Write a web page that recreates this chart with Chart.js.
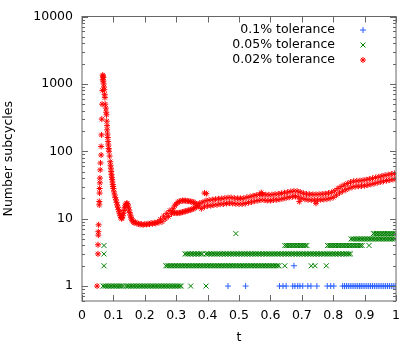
<!DOCTYPE html>
<html>
<head>
<meta charset="utf-8">
<script src="https://cdn.jsdelivr.net/npm/chart.js@4.4.0/dist/chart.umd.min.js"></script>
<style>
  body { margin: 0; background: #fff; }
</style>
</head>
<body>
<canvas id="chart" width="407" height="349"></canvas>
<script>
// tick labels
const xTicks = [0, 0.1, 0.2, 0.3, 0.4, 0.5, 0.6, 0.7, 0.8, 0.9, 1];
const yDecades = [1, 10, 100, 1000, 10000];

const seriesNames = ['0.1% tolerance', '0.05% tolerance', '0.02% tolerance'];

// 0.1% tolerance: times (t) at which 1 and 2 subcycles were used
const blueAt1 = [0.465, 0.521, 0.629, 0.640, 0.650, 0.671, 0.678, 0.687, 0.694, 0.703, 0.719, 0.729, 0.748,
  0.781, 0.792, 0.802, 0.830, 0.836, 0.842, 0.848, 0.854, 0.860, 0.866, 0.872, 0.878, 0.884, 0.889, 0.895,
  0.901, 0.907, 0.913, 0.919, 0.925, 0.931, 0.937, 0.943, 0.949, 0.955, 0.961, 0.967, 0.973, 0.979, 0.985,
  0.991, 0.997];
const blueAt2 = [0.675];

// 0.05% tolerance: times (t) for each subcycle count
const greenAt1 = [0.067, 0.072, 0.077, 0.082, 0.087, 0.092, 0.097, 0.102, 0.107, 0.112, 0.117, 0.122, 0.126,
  0.132, 0.141, 0.146, 0.151, 0.156, 0.161, 0.166, 0.171, 0.176, 0.181, 0.186, 0.191, 0.196, 0.201, 0.206,
  0.211, 0.216, 0.221, 0.226, 0.231, 0.236, 0.241, 0.246, 0.251, 0.256, 0.261, 0.266, 0.271, 0.276, 0.281,
  0.286, 0.291, 0.296, 0.301, 0.306, 0.311, 0.316, 0.346, 0.395];
const greenAt2 = [0.07, 0.267, 0.272, 0.277, 0.282, 0.287, 0.292, 0.297, 0.302, 0.307, 0.312, 0.317, 0.322,
  0.327, 0.332, 0.337, 0.342, 0.347, 0.352, 0.357, 0.362, 0.367, 0.372, 0.377, 0.382, 0.387, 0.392, 0.397,
  0.402, 0.407, 0.412, 0.417, 0.422, 0.427, 0.432, 0.437, 0.442, 0.447, 0.452, 0.457, 0.462, 0.467, 0.472,
  0.477, 0.482, 0.487, 0.492, 0.497, 0.502, 0.507, 0.512, 0.517, 0.522, 0.527, 0.532, 0.537, 0.542, 0.547,
  0.552, 0.557, 0.562, 0.567, 0.572, 0.577, 0.582, 0.587, 0.592, 0.597, 0.602, 0.607, 0.612, 0.617, 0.622,
  0.627, 0.646, 0.73, 0.742, 0.778];
const greenAt3 = [0.07, 0.328, 0.333, 0.338, 0.343, 0.348, 0.353, 0.358, 0.363, 0.368, 0.373, 0.378, 0.383,
  0.395, 0.4, 0.405, 0.41, 0.415, 0.42, 0.425, 0.43, 0.435, 0.44, 0.445, 0.45, 0.455, 0.46, 0.465, 0.47,
  0.475, 0.48, 0.485, 0.49, 0.495, 0.5, 0.505, 0.51, 0.515, 0.52, 0.525, 0.53, 0.535, 0.54, 0.545, 0.55,
  0.555, 0.56, 0.565, 0.57, 0.575, 0.58, 0.585, 0.59, 0.595, 0.6, 0.605, 0.61, 0.615, 0.62, 0.625, 0.63,
  0.635, 0.64, 0.645, 0.65, 0.655, 0.66, 0.665, 0.67, 0.675, 0.68, 0.685, 0.69, 0.695, 0.7, 0.705, 0.71,
  0.715, 0.72, 0.725, 0.73, 0.735, 0.74, 0.745, 0.75, 0.755, 0.76, 0.765, 0.77, 0.775, 0.78, 0.785, 0.79,
  0.795, 0.8, 0.805, 0.81, 0.815, 0.82, 0.825, 0.83, 0.835, 0.84, 0.845, 0.85, 0.855];
const greenAt4 = [0.07, 0.646, 0.651, 0.656, 0.661, 0.666, 0.671, 0.676, 0.681, 0.686, 0.691, 0.696, 0.701,
  0.706, 0.711, 0.716, 0.782, 0.787, 0.792, 0.797, 0.802, 0.807, 0.812, 0.817, 0.822, 0.827, 0.832, 0.837,
  0.842, 0.847, 0.852, 0.857, 0.862, 0.867, 0.872, 0.877, 0.882, 0.887, 0.892, 0.914];
const greenAt5 = [0.857, 0.862, 0.867, 0.872, 0.877, 0.882, 0.887, 0.892, 0.897, 0.902, 0.907, 0.912, 0.917,
  0.922, 0.927, 0.932, 0.937, 0.942, 0.947, 0.952, 0.957, 0.962, 0.967, 0.972, 0.977, 0.982, 0.987, 0.992,
  0.997];
const greenAt6 = [0.49, 0.928, 0.933, 0.938, 0.943, 0.948, 0.953, 0.958, 0.963, 0.968, 0.973, 0.978, 0.983,
  0.988, 0.993, 0.998];

// 0.02% tolerance: [t, subcycles]
const redPoints = [
  // start-up spike
  [0.048, 1], [0.051, 3], [0.051, 4.1], [0.052, 5.7], [0.052, 6.4], [0.053, 8.1], [0.055, 16], [0.055, 18],
  [0.056, 24], [0.056, 28], [0.057, 34], [0.057, 40], [0.058, 53], [0.059, 67], [0.061, 88], [0.061, 118],
  [0.062, 175], [0.063, 300], [0.064, 500], [0.065, 800], [0.066, 1150], [0.066, 1350], [0.067, 1300],
  [0.068, 1250], [0.068, 1100], [0.069, 1000], [0.070, 900], [0.071, 820], [0.072, 700], [0.073, 626],
  [0.074, 500], [0.076, 437], [0.077, 380], [0.078, 347], [0.079, 280], [0.080, 240], [0.080, 208],
  [0.081, 180], [0.082, 160], [0.083, 140], [0.084, 124], [0.085, 110], [0.086, 100], [0.088, 85],
  [0.090, 70], [0.091, 62], [0.092, 56], [0.093, 50], [0.094, 45], [0.095, 41], [0.096, 38], [0.097, 35],
  [0.098, 32], [0.099, 30], [0.100, 28], [0.102, 25], [0.104, 22.5], [0.106, 20.5], [0.108, 19],
  [0.110, 17.5], [0.112, 16], [0.114, 14.8], [0.116, 13.6], [0.118, 12.6], [0.120, 11.8], [0.122, 11],
  [0.124, 10.4], [0.126, 10], [0.128, 10.3], [0.130, 11], [0.132, 12], [0.134, 13.2], [0.136, 14.5],
  [0.138, 15.5], [0.140, 16.3], [0.142, 16.8], [0.144, 16.8], [0.146, 16], [0.148, 14.8], [0.150, 13.5],
  [0.152, 12.3], [0.154, 11.3], [0.156, 10.5], [0.158, 9.9], [0.160, 9.4], [0.163, 9.0], [0.166, 8.7],
  // trough
  [0.170, 8.8], [0.175, 8.5], [0.180, 8.4], [0.185, 8.2], [0.190, 8.3], [0.195, 8.1], [0.200, 8.3],
  [0.205, 8.2], [0.210, 8.4], [0.215, 8.3], [0.220, 8.6], [0.225, 8.4], [0.230, 8.7], [0.235, 8.5],
  [0.240, 8.9], [0.245, 8.8], [0.250, 9.8], [0.255, 9.0], [0.260, 10.9], [0.265, 9.9], [0.270, 12.0],
  [0.275, 10.8], [0.280, 13.2], [0.285, 11.8],
  // loop, upper branch
  [0.290, 14], [0.295, 15.5], [0.300, 16.5], [0.305, 17.5], [0.310, 18], [0.315, 18.3], [0.320, 18.5],
  [0.325, 18.5], [0.330, 18.5], [0.335, 18.3], [0.340, 18.2], [0.345, 18], [0.350, 17.8], [0.355, 17.5],
  [0.360, 17], [0.365, 16.5], [0.370, 15.8],
  // loop, lower branch
  [0.290, 12.5], [0.295, 12.2], [0.300, 12.1], [0.305, 12.1], [0.310, 12.2], [0.315, 12.3], [0.320, 12.5],
  [0.325, 12.7], [0.330, 12.9], [0.335, 13.1], [0.340, 13.3], [0.345, 13.5], [0.350, 13.8], [0.355, 14.1],
  [0.360, 14.5], [0.365, 15], [0.370, 15.4],
  // slow rise
  [0.375, 17.0], [0.380, 14.1], [0.385, 17.6], [0.390, 15.0], [0.395, 18.5], [0.400, 15.5], [0.405, 18.8],
  [0.410, 15.6], [0.415, 19.1], [0.420, 15.9], [0.425, 19.4], [0.430, 16.1], [0.435, 19.7], [0.440, 16.4],
  [0.445, 19.9], [0.450, 16.5], [0.455, 20.2], [0.460, 16.8], [0.465, 20.5], [0.470, 17.0], [0.475, 20.5],
  [0.480, 16.8], [0.485, 20.2], [0.490, 16.6], [0.495, 20.0], [0.500, 16.5], [0.505, 20.0], [0.510, 16.5],
  [0.515, 20.1], [0.520, 16.8], [0.525, 20.7], [0.530, 17.3], [0.535, 21.2], [0.540, 17.7], [0.545, 21.8],
  [0.550, 18.2], [0.555, 22.3], [0.560, 18.6], [0.565, 22.8], [0.570, 18.9], [0.575, 22.9], [0.580, 18.9],
  [0.585, 22.7], [0.590, 18.6], [0.595, 22.6], [0.600, 18.6], [0.605, 22.7], [0.610, 18.9], [0.615, 23.0],
  [0.620, 19.1], [0.625, 23.3], [0.630, 19.4], [0.635, 23.7], [0.640, 19.8], [0.645, 24.2], [0.650, 20.3],
  [0.655, 24.8], [0.660, 20.7], [0.665, 25.3], [0.670, 21.2], [0.675, 25.7], [0.680, 21.4], [0.685, 25.6],
  [0.690, 20.9], [0.695, 24.8], [0.700, 20.0], [0.705, 23.8], [0.710, 19.4], [0.715, 23.2], [0.720, 19.1],
  [0.725, 23.0], [0.730, 18.9], [0.735, 22.9], [0.740, 18.9], [0.745, 22.9], [0.750, 18.9], [0.755, 23.0],
  [0.760, 19.1], [0.765, 23.2], [0.770, 19.3], [0.775, 23.4], [0.780, 19.5], [0.785, 23.9], [0.790, 20.0],
  [0.795, 24.6], [0.800, 20.7], [0.805, 25.9], [0.810, 22.3], [0.815, 28.1], [0.820, 24.1], [0.825, 29.9],
  [0.830, 25.5], [0.835, 31.7], [0.840, 26.8], [0.845, 33.2], [0.850, 28.2], [0.855, 34.8], [0.860, 29.3],
  [0.865, 35.9], [0.870, 30.0], [0.875, 36.4], [0.880, 30.2], [0.885, 36.6], [0.890, 30.5], [0.895, 37.1],
  [0.900, 30.9], [0.905, 37.8], [0.910, 31.6], [0.915, 38.6], [0.920, 32.3], [0.925, 39.6], [0.930, 33.2],
  [0.935, 40.7], [0.940, 34.1], [0.945, 41.8], [0.950, 35.0], [0.955, 42.9], [0.960, 35.9], [0.965, 44.0],
  [0.970, 36.8], [0.975, 44.9], [0.980, 37.5], [0.985, 45.8], [0.990, 38.2], [0.995, 46.8], [1.000, 39.1],
  // stray points
  [0.390, 24], [0.396, 23.5], [0.571, 24.3], [0.692, 17.9], [0.745, 16.9]
];

const colors = ['rgb(40, 95, 255)', 'rgb(0, 128, 0)', 'rgb(255, 0, 0)'];
const styles = ['cross', 'crossRot', 'star'];
const radii = [3, 3.5, 3];
const FONT = { family: "'DejaVu Sans', sans-serif", size: 12.5 };

function atLevel(times, level) {
  return times.map(t => ({ x: t, y: level }));
}

const bluePts = atLevel(blueAt1, 1).concat(atLevel(blueAt2, 2));
const greenPts = [greenAt1, greenAt2, greenAt3, greenAt4, greenAt5, greenAt6]
  .map((times, i) => atLevel(times, i + 1)).flat();
const redPts = redPoints.map(p => ({ x: p[0], y: p[1] }));

function makeSet(i, data) {
  return {
    label: seriesNames[i],
    data: data,
    pointStyle: styles[i],
    pointRadius: radii[i],
    pointBorderWidth: 1,
    pointBorderColor: colors[i],
    pointBackgroundColor: colors[i],
    showLine: false,
    order: 2 - i // red on top
  };
}

// gnuplot style frame with inward ticks, plus the key
const frame = {
  id: 'frame',
  afterDraw(chart) {
    const ctx = chart.ctx;
    const a = chart.chartArea;
    const xs = chart.scales.x, ys = chart.scales.y;
    ctx.save();
    ctx.strokeStyle = '#666';
    ctx.lineWidth = 1;
    ctx.strokeRect(a.left, a.top, a.right - a.left, a.bottom - a.top);
    ctx.beginPath();
    xTicks.forEach(v => {
      const px = Math.round(xs.getPixelForValue(v)) + 0.5;
      ctx.moveTo(px, a.bottom); ctx.lineTo(px, a.bottom - 6);
      ctx.moveTo(px, a.top); ctx.lineTo(px, a.top + 6);
    });
    yDecades.forEach(v => {
      const py = Math.round(ys.getPixelForValue(v)) + 0.5;
      ctx.moveTo(a.left, py); ctx.lineTo(a.left + 6, py);
      ctx.moveTo(a.right, py); ctx.lineTo(a.right - 6, py);
    });
    [0.1, 1, 10, 100, 1000].forEach(d => {
      for (let k = 2; k <= 9; k++) {
        const v = d * k;
        if (v < ys.min || v > ys.max) continue;
        const py = Math.round(ys.getPixelForValue(v)) + 0.5;
        ctx.moveTo(a.left, py); ctx.lineTo(a.left + 3, py);
        ctx.moveTo(a.right, py); ctx.lineTo(a.right - 3, py);
      }
    });
    ctx.stroke();

    // key
    ctx.font = FONT.size + 'px ' + FONT.family;
    ctx.fillStyle = '#000';
    ctx.textAlign = 'right';
    ctx.textBaseline = 'middle';
    seriesNames.forEach((name, i) => {
      const y = 30 + i * 15;
      ctx.fillText(name, 335, y);
      ctx.strokeStyle = colors[i];
      Chart.helpers.drawPoint(ctx, { pointStyle: styles[i], radius: radii[i], borderWidth: 1, rotation: 0 }, 363, y);
    });
    ctx.restore();
  }
};

const chart = new Chart(document.getElementById('chart'), {
  type: 'scatter',
  data: {
    datasets: [makeSet(0, bluePts), makeSet(1, greenPts), makeSet(2, redPts)]
  },
  options: {
    responsive: false,
    animation: false,
    layout: { padding: { top: 16, right: 8, left: 0, bottom: 0 } },
    plugins: { legend: { display: false }, tooltip: { enabled: false } },
    scales: {
      x: {
        type: 'linear', min: 0, max: 1,
        grid: { display: false, drawTicks: false },
        border: { display: false },
        ticks: {
          stepSize: 0.1, autoSkip: false, padding: 7, color: '#000', font: FONT, maxRotation: 0,
          callback: v => String(+v.toFixed(1))
        },
        title: { display: true, text: 't', color: '#000', font: FONT, padding: { top: 0, bottom: 4 } },
        afterFit(s) { s.height = 48; }
      },
      y: {
        type: 'logarithmic', min: 0.6, max: 10000,
        grid: { display: false, drawTicks: false },
        border: { display: false },
        ticks: {
          autoSkip: false, padding: 9, color: '#000', font: FONT,
          callback: v => (yDecades.includes(Math.round(v)) && Math.abs(v - Math.round(v)) < 1e-6) ? String(Math.round(v)) : ''
        },
        title: { display: true, text: 'Number subcycles', color: '#000', font: FONT, padding: { top: 1, bottom: 0 } },
        afterFit(s) { s.width = 82; }
      }
    }
  },
  plugins: [frame]
});
</script>
</body>
</html>
